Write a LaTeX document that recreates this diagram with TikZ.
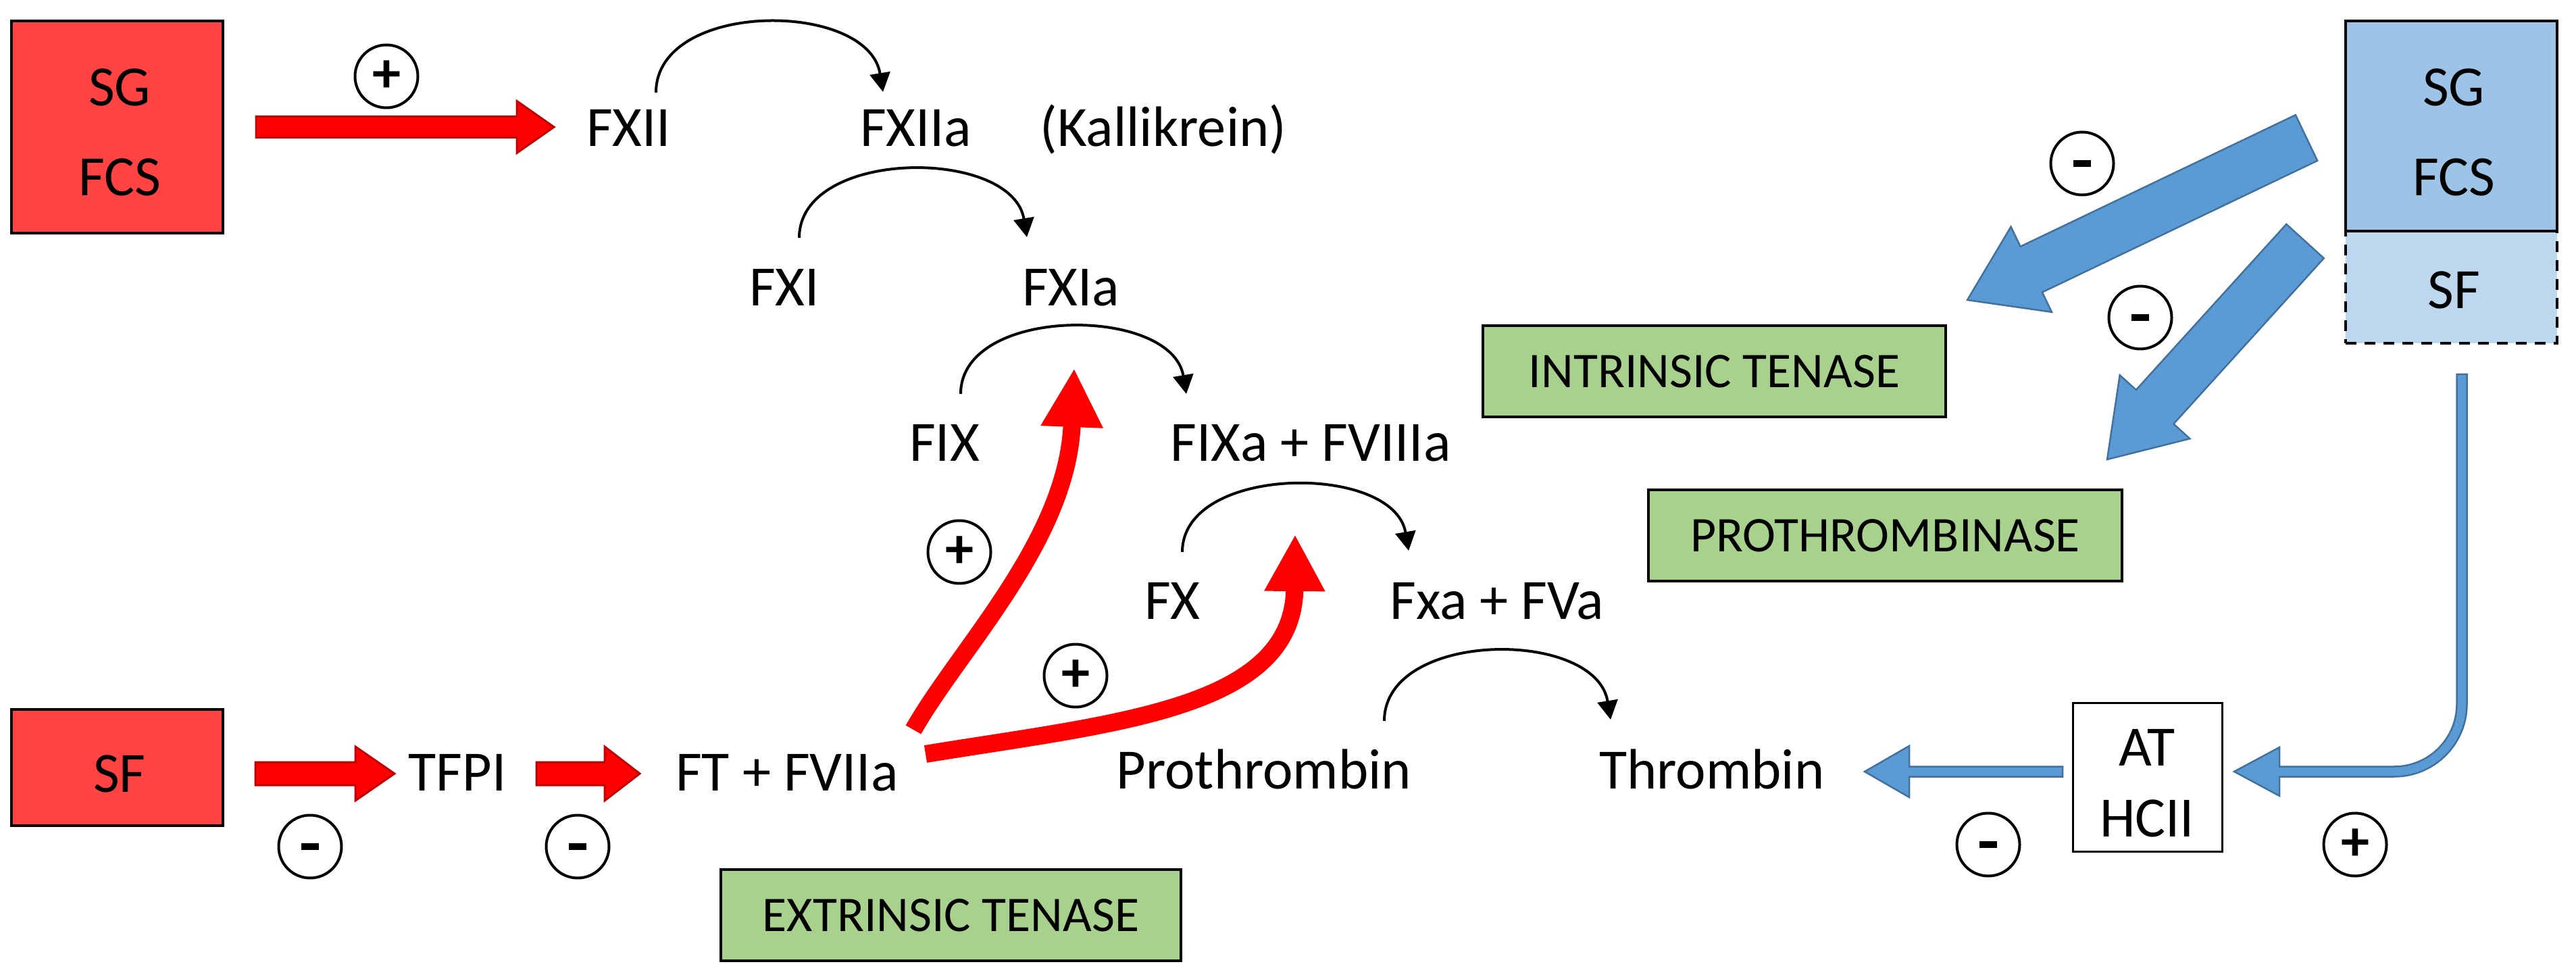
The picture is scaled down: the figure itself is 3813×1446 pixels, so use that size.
\documentclass[tikz,border=0pt]{standalone}
\usepackage{fontspec}
\setmainfont{Carlito}
\usetikzlibrary{calc,arrows.meta}
\definecolor{boxred}{RGB}{255,67,67}
\definecolor{arrred}{RGB}{255,0,0}
\definecolor{arrredline}{RGB}{192,0,0}
\definecolor{boxgreen}{RGB}{169,209,142}
\definecolor{boxblue}{RGB}{157,195,230}
\definecolor{boxbluelight}{RGB}{189,215,238}
\definecolor{arrblue}{RGB}{91,155,213}
\definecolor{arrblueline}{RGB}{65,113,156}
% block arrow: #1 style, #2 start, #3 tip, #4 half shaft, #5 half head, #6 head length
\newcommand\myblkarrow[6]{%
  \filldraw[#1] ($(#2)!#4!90:(#3)$) -- ($($(#3)!#6!(#2)$)!#4!90:(#3)$) -- ($($(#3)!#6!(#2)$)!#5!90:(#3)$) -- (#3) -- ($($(#3)!#6!(#2)$)!#5!-90:(#3)$) -- ($($(#3)!#6!(#2)$)!#4!-90:(#3)$) -- ($(#2)!#4!-90:(#3)$) -- cycle;}
\begin{document}
\begin{tikzpicture}[x=0.1mm,y=-0.1mm,
  lbl/.style={font=\fontsize{24}{28}\selectfont, inner sep=0pt, anchor=base},
  box/.style={draw=black, line width=0.4mm, inner sep=0pt},
  gbox/.style={box, fill=boxgreen, font=\fontsize{21}{25}\selectfont, minimum height=13.5mm},
  sign/.style={circle, draw=black, line width=0.4mm, minimum size=9.3mm, inner sep=0pt, font=\fontsize{24}{28}\selectfont\bfseries},
  redarr/.style={fill=arrred, draw=arrredline, line width=0.3mm},
  bluearr/.style={fill=arrblue, draw=arrblueline, line width=0.25mm},
  redcurve/.style={draw=arrred, line width=2.6mm},
  blackarc/.style={draw=black, line width=0.4mm, -{Triangle[length=2.8mm,width=3mm]}}]
\useasboundingbox (0,0) rectangle (3813,1446);

% ---- boxes
\node[box, fill=boxred, minimum width=31.3mm, minimum height=31.4mm] (redA) at (173.5,188) {};
\node[lbl] (sgA) at (177,157) {SG};
\node[lbl] (fcsA) at (177,290) {FCS};
\node[box, fill=boxred, minimum width=31.3mm, minimum height=17.2mm] (redB) at (173.5,1136) {};
\node[lbl] (sfA) at (177,1172) {SF};

\node[box, fill=boxbluelight, dash pattern=on 1.6mm off 1.2mm, minimum width=31.3mm, minimum height=16.6mm] (blueB) at (3628.5,425) {};
\node[box, fill=boxblue, minimum width=31.3mm, minimum height=31.1mm] (blueA) at (3628.5,186.5) {};
\node[lbl] (sgB) at (3632,157) {SG};
\node[lbl] (fcsB) at (3632,290) {FCS};
\node[lbl] (sfB) at (3632,457) {SF};

\node[box, fill=white, line width=0.3mm, minimum width=22.1mm, minimum height=22mm] (atbox) at (3178.5,1150) {};
\node[lbl] (at) at (3178,1133) {AT};
\node[lbl] (hcii) at (3178,1238) {HCII};

\node[gbox, minimum width=68.5mm] (intr) at (2537.5,549.5) {INTRINSIC TENASE};
\node[gbox, minimum width=70.1mm] (prot) at (2790.5,792.5) {PROTHROMBINASE};
\node[gbox, minimum width=68.1mm] (extr) at (1407.5,1354.5) {EXTRINSIC TENASE};

% ---- factor labels
\node[lbl] (fxii) at (931,217) {FXII};
\node[lbl] (fxiia) at (1356,217) {FXIIa};
\node[lbl] (kal) at (1722,217) {(Kallikrein)};
\node[lbl] (fxi) at (1161,453) {FXI};
\node[lbl] (fxia) at (1585,453) {FXIa};
\node[lbl] (fix) at (1398,683) {FIX};
\node[lbl] (fixa) at (1940,683) {FIXa + FVIIIa};
\node[lbl] (fx) at (1735,917) {FX};
\node[lbl] (fxa) at (2216,917) {Fxa + FVa};
\node[lbl] (proth) at (1871,1167) {Prothrombin};
\node[lbl] (throm) at (2534,1167) {Thrombin};
\node[lbl] (tfpi) at (677,1170) {TFPI};
\node[lbl] (ftf) at (1165,1170) {FT + FVIIa};

% ---- red block arrows
\coordinate (r1s) at (379,188);  \coordinate (r1e) at (820,188);
\coordinate (r2s) at (378,1145); \coordinate (r2e) at (584,1145);
\coordinate (r3s) at (794,1145); \coordinate (r3e) at (947,1145);
\myblkarrow{redarr}{r1s}{r1e}{1.55mm}{3.85mm}{5.5mm}
\myblkarrow{redarr}{r2s}{r2e}{1.7mm}{4mm}{5.8mm}
\myblkarrow{redarr}{r3s}{r3e}{1.7mm}{4mm}{5.2mm}

% ---- red curved arrows
\coordinate (rc1s) at (1352,1080); \coordinate (rc1e) at (1590,545);
\coordinate (rc2s) at (1370,1116); \coordinate (rc2e) at (1917,791);
\draw[redcurve, -{Triangle[length=8.7mm,width=8.6mm]}] (rc1s) .. controls (1420,960) and (1580,800) .. (rc1e);
\draw[redcurve, -{Triangle[length=8.4mm,width=8.4mm]}] (rc2s) .. controls (1650,1070) and (1915,1050) .. (rc2e);

% ---- black arcs
\coordinate (a1s) at (971,137);  \coordinate (a1e) at (1307,136);
\coordinate (a2s) at (1183,352); \coordinate (a2e) at (1520,351);
\coordinate (a3s) at (1422,583); \coordinate (a3e) at (1756,583);
\coordinate (a4s) at (1750,817); \coordinate (a4e) at (2085,815);
\coordinate (a5s) at (2049,1067);\coordinate (a5e) at (2384,1065);
\draw[blackarc] (a1s) .. controls (971,0) and (1285,0) .. (a1e);
\draw[blackarc] (a2s) .. controls (1183,219) and (1498,218) .. (a2e);
\draw[blackarc] (a3s) .. controls (1422,452) and (1734,452) .. (a3e);
\draw[blackarc] (a4s) .. controls (1750,687) and (2063,685) .. (a4e);
\draw[blackarc] (a5s) .. controls (2049,932) and (2362,930) .. (a5e);

% ---- blue block arrows
\coordinate (b1s) at (3414,204); \coordinate (b1e) at (2912,444);
\coordinate (b2s) at (3412,357); \coordinate (b2e) at (3119,680);
\myblkarrow{bluearr}{b1s}{b1e}{3.75mm}{7mm}{10.5mm}
\myblkarrow{bluearr}{b2s}{b2e}{3.75mm}{7mm}{10.5mm}

% ---- thin blue arrows
\filldraw[bluearr] (3636.5,554) -- (3651.5,554) -- (3651.5,1042)
  arc[start angle=0, end angle=-90, radius=10.75mm] -- (3374,1149.5) -- (3374,1178)
  -- (3307,1142) -- (3374,1106) -- (3374,1134.5) -- (3544,1134.5)
  arc[start angle=-90, end angle=0, radius=9.25mm] -- cycle;
\filldraw[bluearr] (3053,1134.5) -- (2826,1134.5) -- (2826,1104) -- (2760,1142)
  -- (2826,1180) -- (2826,1149.5) -- (3053,1149.5) -- cycle;

% ---- signs
\node[sign] (s1) at (572,113) {+};
\node[sign] (s2) at (459,1253) {\rule{2.6mm}{0.95mm}};
\node[sign] (s3) at (855,1253) {\rule{2.6mm}{0.95mm}};
\node[sign] (s4) at (1420,817) {+};
\node[sign] (s5) at (1592,1000) {+};
\node[sign] (s6) at (3082,242) {\rule{2.6mm}{0.95mm}};
\node[sign] (s7) at (3168,470) {\rule{2.6mm}{0.95mm}};
\node[sign] (s8) at (2943,1250) {\rule{2.6mm}{0.95mm}};
\node[sign] (s9) at (3486,1250) {+};
\end{tikzpicture}
\end{document}
